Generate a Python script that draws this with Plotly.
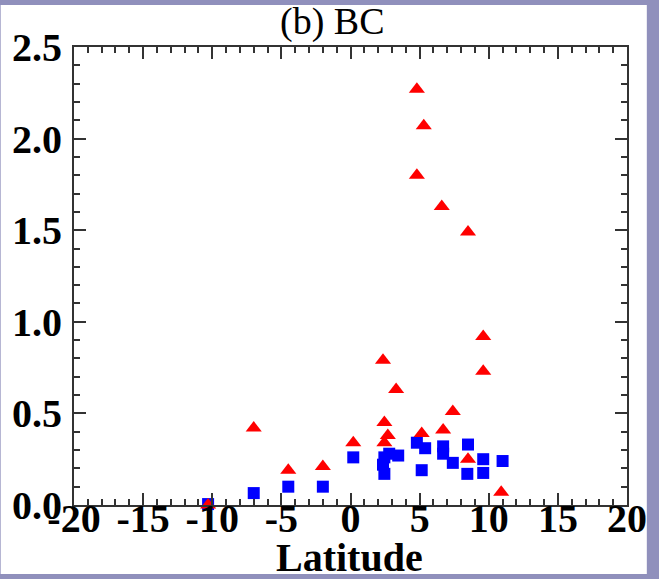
import plotly.graph_objects as go

# Data
tri_lat = [4.8, 5.3, 4.8, 6.6, 8.5, 9.6, 9.6, 2.35, 3.3, 7.4, 2.45, 6.7, 5.15, 2.7, 2.45, 0.2,
           -7.0, -4.5, -2.0, 8.5, 10.9, -10.3]
tri_val = [2.27, 2.07, 1.80, 1.63, 1.49, 0.92, 0.73, 0.79, 0.63, 0.51, 0.45, 0.41, 0.39, 0.38, 0.34, 0.34,
           0.42, 0.19, 0.21, 0.25, 0.07, 0.0]

sq_lat = [0.2, 2.8, 2.45, 2.35, 2.45, 3.45, 4.8, 5.4, 5.15, 6.7, 6.7, 7.4, 8.5, 8.45, 9.6, 9.6, 11.0,
          -7.0, -4.5, -2.0, -10.3]
sq_val = [0.26, 0.28, 0.26, 0.22, 0.17, 0.27, 0.34, 0.31, 0.19, 0.32, 0.28, 0.23, 0.33, 0.17, 0.25, 0.175, 0.24,
          0.065, 0.10, 0.10, 0.005]

x_ticks = [-20, -15, -10, -5, 0, 5, 10, 15, 20]
x_labels = ["-20", "-15", "-10", "-5", "0", "5", "10", "15", "20"]
y_ticks = [0.0, 0.5, 1.0, 1.5, 2.0, 2.5]
y_labels = ["0.0", "0.5", "1.0", "1.5", "2.0", "2.5"]
x_range = [-20, 20]
y_range = [0, 2.5]

W, H = 659, 579
L, R, T, B = 74, 27, 47, 74
pw, ph = W - L - R, H - T - B

def px(x):
    return (x - L) / pw

def py(y):
    return (H - B - y) / ph

fig = go.Figure()
fig.add_trace(go.Scatter(x=sq_lat, y=sq_val, mode="markers", cliponaxis=False,
                         marker=dict(symbol="square", size=12, color="#0000ff", line=dict(width=0))))
fig.add_trace(go.Scatter(x=tri_lat, y=tri_val, mode="markers", cliponaxis=False,
                         marker=dict(symbol="triangle-up", size=14, color="#ff0000", line=dict(width=0))))
# invisible trace to carry the label-only axes
fig.add_trace(go.Scatter(x=x_range, y=y_range, mode="markers", xaxis="x2", yaxis="y2",
                         marker=dict(opacity=0), hoverinfo="skip"))

tickfont = dict(family="Liberation Serif", size=40, color="black", weight="bold")
axis_common = dict(showline=True, linecolor="#333333", linewidth=2, mirror="allticks",
                   ticks="inside", tickcolor="#333333", tickwidth=1.5, ticklen=12,
                   showgrid=False, zeroline=False, showticklabels=False)

fig.update_layout(
    xaxis=dict(range=x_range, tickmode="array", tickvals=x_ticks,
               minor=dict(ticks="inside", dtick=1, tick0=0, ticklen=6, tickwidth=1.5,
                          tickcolor="#333333", showgrid=False),
               **axis_common),
    yaxis=dict(range=y_range, tickmode="array", tickvals=y_ticks,
               minor=dict(ticks="inside", dtick=0.1, tick0=0, ticklen=6, tickwidth=1.5,
                          tickcolor="#333333", showgrid=False),
               **axis_common),
    xaxis2=dict(range=x_range, overlaying="x", anchor="y2", side="bottom", tickmode="array",
                tickvals=x_ticks, ticktext=x_labels, ticks="", showline=False, showgrid=False,
                zeroline=False, tickfont=tickfont, ticklabelstandoff=-14),
    yaxis2=dict(range=y_range, overlaying="y", anchor="x2", side="left", tickmode="array",
                tickvals=y_ticks, ticktext=y_labels, ticks="", showline=False, showgrid=False,
                zeroline=False, tickfont=tickfont, ticklabelstandoff=11),
)

shapes = [
    dict(type="rect", xref="paper", yref="paper", layer="below",
         x0=px(0), x1=px(652), y0=py(574), y1=py(5),
         fillcolor="white", line=dict(width=0)),
]

annotations = [
    dict(text="(b) BC", xref="paper", yref="paper", x=px(335), y=py(22), xanchor="center", yanchor="middle",
         showarrow=False, font=dict(family="Liberation Serif", size=38, color="black")),
    dict(text="Latitude", xref="paper", yref="paper", x=px(352), y=py(557), xanchor="center", yanchor="middle",
         showarrow=False, font=dict(family="Liberation Serif", size=40, color="black", weight="bold")),
]

fig.update_layout(width=W, height=H, margin=dict(l=L, r=R, t=T, b=B, pad=0),
                  paper_bgcolor="#9090bc", plot_bgcolor="white", showlegend=False,
                  shapes=shapes, annotations=annotations)

fig.write_html("out.html")
